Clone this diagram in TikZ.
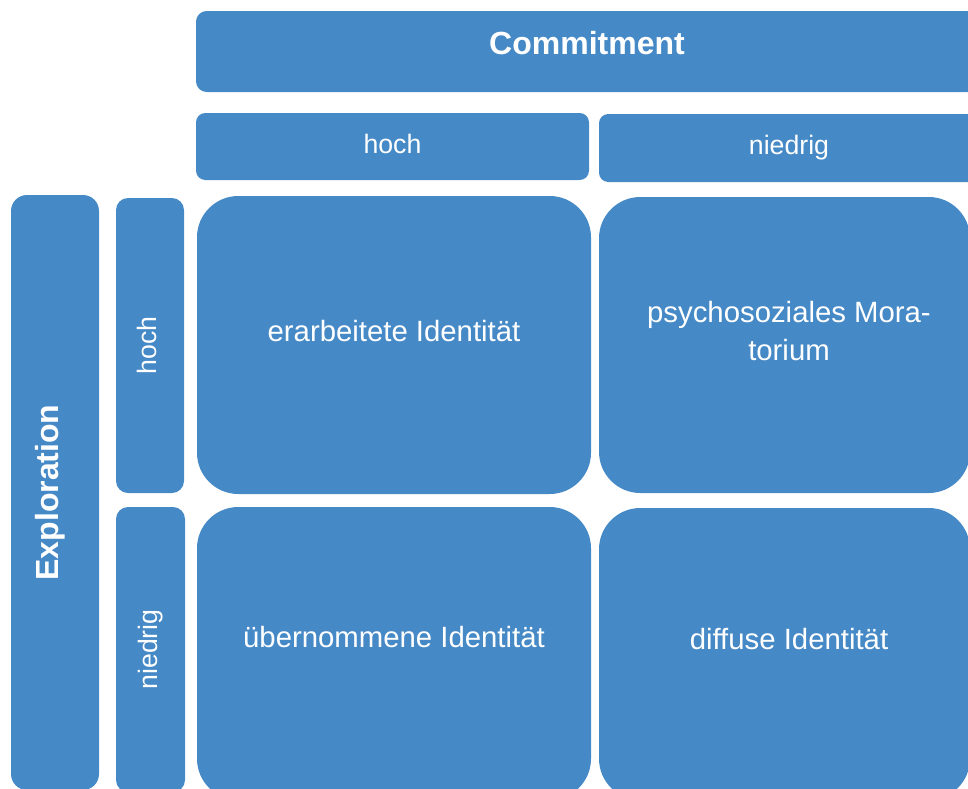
\documentclass[tikz,border=0pt]{standalone}
\usepackage{fontspec}
\setmainfont{Liberation Sans}
\usetikzlibrary{positioning}
\definecolor{boxblue}{RGB}{69,137,198}

\begin{document}
\begin{tikzpicture}[
x=0.75pt, y=-0.75pt,
box/.style={rectangle, fill=boxblue, text=white, inner sep=0pt},
head/.style={box, rounded corners=8pt, text height=17.5pt, text depth=12.5pt, font=\fontsize{24}{28}\selectfont\bfseries},
tag/.style={box, rounded corners=7pt, text height=14.5pt, text depth=4.7pt, font=\fontsize{20}{24}\selectfont},
cell/.style={box, rounded corners=31pt},
celltext/.style={text=white, align=center, inner sep=0pt, font=\fontsize{22}{28.5}\selectfont}
]
	\useasboundingbox (0,0) rectangle (968,789);
	\clip (0,0) rectangle (968,789);

	% headings
	\node at (587,51.5) [head, minimum width=586.5pt, minimum height=60.75pt] (commit) {Commitment};
	\node at (55,492.5) [head, rotate=90, rounded corners=12pt, minimum width=446.25pt, minimum height=66pt] (explor) {Exploration};

	% commitment levels
	\node at (392.5,146.5) [tag, minimum width=294.75pt, minimum height=50.25pt] (chigh) {hoch};
	\node at (789,148) [tag, minimum width=285pt, minimum height=51pt] (clow) {niedrig};

	% exploration levels
	\node at (150,345.5) [tag, rotate=90, rounded corners=9pt, minimum width=221.25pt, minimum height=51pt] (ehigh) {hoch};
	\node at (150.5,649.5) [tag, rotate=90, rounded corners=9pt, minimum width=213.75pt, minimum height=51.75pt] (elow) {niedrig};

	% status cells
	\node at (394,345) [cell, minimum width=295.5pt, minimum height=223.5pt] (achieved) {};
	\node at (784.5,345) [cell, minimum width=278.25pt, minimum height=222pt] (moratorium) {};
	\node at (394,653.5) [cell, minimum width=295.5pt, minimum height=219.75pt] (foreclosure) {};
	\node at (784.5,654) [cell, minimum width=278.25pt, minimum height=219pt] (diffusion) {};

	\node at (394,331) [celltext] (achievedtext) {erarbeitete Identität};
	\node at (789,331) [celltext] (moratoriumtext) {psychosoziales Mora-\\torium};
	\node at (394,637) [celltext] (foreclosuretext) {übernommene Identität};
	\node at (789,639) [celltext] (diffusiontext) {diffuse Identität};
\end{tikzpicture}
\end{document}
